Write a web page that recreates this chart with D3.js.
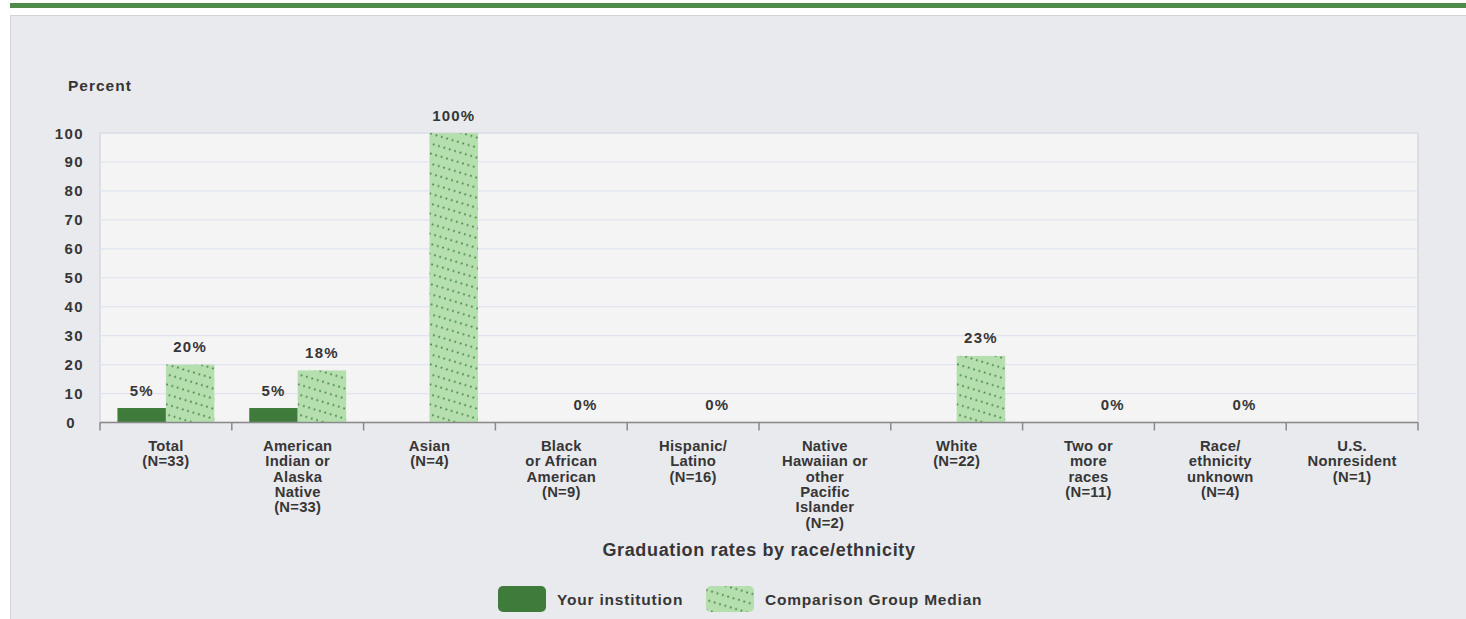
<!DOCTYPE html>
<html><head><meta charset="utf-8">
<script src="https://cdn.jsdelivr.net/npm/d3@7"></script>
<style>
html,body{margin:0;padding:0;background:#fff;}
svg{display:block;font-family:"Liberation Sans",Arial,sans-serif;}
</style></head>
<body>
<svg id="chart" width="1466" height="619"></svg>
<script>
const categories = [
  ["Total","(N=33)"],
  ["American","Indian or","Alaska","Native","(N=33)"],
  ["Asian","(N=4)"],
  ["Black","or African","American","(N=9)"],
  ["Hispanic/","Latino","(N=16)"],
  ["Native","Hawaiian or","other","Pacific","Islander","(N=2)"],
  ["White","(N=22)"],
  ["Two or","more","races","(N=11)"],
  ["Race/","ethnicity","unknown","(N=4)"],
  ["U.S.","Nonresident","(N=1)"]
];
const yourInstitution = [5, 5, null, null, null, null, null, null, null, null];
const comparisonMedian = [20, 18, 100, 0, 0, null, 23, 0, 0, null];
const yTicks = [0,10,20,30,40,50,60,70,80,90,100];
const seriesNames = ["Your institution", "Comparison Group Median"];

const svg = d3.select("#chart");
const defs = svg.append("defs");
const pat = defs.append("pattern").attr("id","dots")
  .attr("patternUnits","userSpaceOnUse").attr("width",5.6).attr("height",9.6)
  .attr("patternTransform","rotate(17)");
pat.append("rect").attr("width",5.6).attr("height",9.6).attr("fill","#b6dfb0");
pat.append("circle").attr("cx",2.8).attr("cy",2.5).attr("r",1.05).attr("fill","#4a8a45");

// top green bar
svg.append("rect").attr("x",10).attr("y",3).attr("width",1456).attr("height",5).attr("fill","#4e8a4a");
// panel
svg.append("rect").attr("x",10.5).attr("y",15.5).attr("width",1470).attr("height",620)
  .attr("fill","#e9eaee").attr("stroke","#d2d4da");

const m = {left:100, right:1418, top:133, bottom:422.5};
const x = d3.scaleBand().domain(d3.range(categories.length)).range([m.left,m.right]).paddingInner(0).paddingOuter(0);
const y = d3.scaleLinear().domain([0,100]).range([m.bottom,m.top]);
const sub = d3.scaleBand().domain([0,1]).range([0,x.bandwidth()]).paddingInner(0).paddingOuter(0.36);

// plot background
svg.append("rect").attr("x",m.left).attr("y",m.top).attr("width",m.right-m.left).attr("height",m.bottom-m.top)
  .attr("fill","#f4f4f4").attr("stroke","#d5d9e1").attr("stroke-width",1.5);

// grid
svg.append("g").selectAll("line").data(yTicks.filter(d=>d>0)).join("line")
  .attr("x1",m.left).attr("x2",m.right).attr("y1",d=>y(d)).attr("y2",d=>y(d))
  .attr("stroke","#dfe4ee").attr("stroke-width",1.2);

const txt = (sel, size, ls) => sel.attr("font-size",size).attr("font-weight","bold")
  .attr("letter-spacing",ls).attr("fill","#363636");

// y tick labels
txt(svg.append("g").selectAll("text").data(yTicks).join("text")
  .attr("x",84).attr("dx",d=>d===0?-8:0).attr("y",d=>y(d)+5.5).attr("text-anchor","end")
  .text(d=>d), 15, 1.4);
txt(svg.append("text").attr("x",68).attr("y",91).text("Percent"), 15.5, 1.0);

// bars
const groups = svg.append("g").selectAll("g").data(categories.map((c,i)=>i)).join("g")
  .attr("transform",i=>`translate(${x(i)},0)`);
const series = [yourInstitution, comparisonMedian];
const fills = ["#3f7c3c","url(#dots)"];
series.forEach((vals,s)=>{
  groups.filter(i=>vals[i]!==null && vals[i]>0).append("rect")
    .attr("x",sub(s)).attr("width",sub.bandwidth())
    .attr("y",i=>y(vals[i])).attr("height",i=>y(0)-y(vals[i]))
    .attr("fill",fills[s]);
  txt(groups.filter(i=>vals[i]!==null).append("text")
    .attr("x",sub(s)+sub.bandwidth()/2).attr("y",i=>y(vals[i])-12.5)
    .attr("text-anchor","middle")
    .text(i=>vals[i]+"%"), 15, 1.2);
});

// x axis line + ticks
svg.append("line").attr("x1",m.left).attr("x2",m.right).attr("y1",m.bottom).attr("y2",m.bottom)
  .attr("stroke","#8a8a8a").attr("stroke-width",1.5);
svg.append("g").selectAll("line").data(d3.range(categories.length+1)).join("line")
  .attr("x1",i=>m.left+i*x.bandwidth()).attr("x2",i=>m.left+i*x.bandwidth())
  .attr("y1",m.bottom).attr("y2",m.bottom+8).attr("stroke","#8a8a8a").attr("stroke-width",1.5);

// category labels
txt(groups.append("text").attr("text-anchor","middle"), 14.8, 0.25)
  .each(function(i){
    d3.select(this).selectAll("tspan").data(categories[i]).join("tspan")
      .attr("x",x.bandwidth()/2).attr("y",(d,k)=>451+k*15.3).text(d=>d);
  });

// axis title
txt(svg.append("text").attr("x",(m.left+m.right)/2).attr("y",556).attr("text-anchor","middle")
  .text("Graduation rates by race/ethnicity"), 18, 0.65);

// legend
const leg = [{x:498, fill:fills[0]},{x:706, fill:fills[1]}];
leg.forEach((l,k)=>{
  svg.append("rect").attr("x",l.x).attr("y",586).attr("width",48).attr("height",26).attr("rx",5).attr("fill",l.fill);
  txt(svg.append("text").attr("x",l.x+59).attr("y",605).text(seriesNames[k]), 15.5, 0.8);
});
</script>
</body></html>
